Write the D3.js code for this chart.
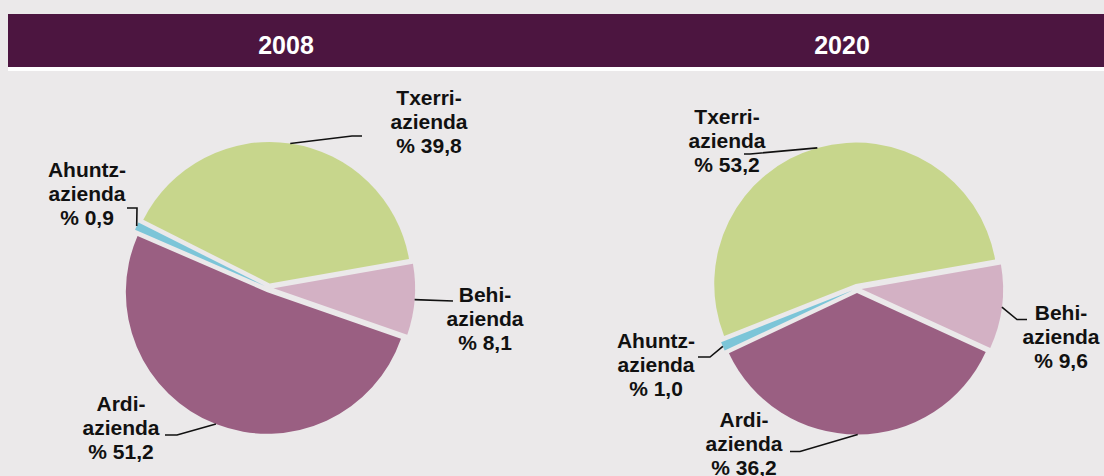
<!DOCTYPE html>
<html>
<head>
<meta charset="utf-8">
<script src="https://cdn.jsdelivr.net/npm/d3@7"></script>
<style>
  html, body { margin: 0; padding: 0; background: #ebe9ea; }
  svg { display: block; }
  text { font-family: "Liberation Sans", Arial, sans-serif; }
</style>
</head>
<body>
<svg id="chart" width="1104" height="476"></svg>
<script>
// ---- data ----
const years = ["2008", "2020"];
const categories = ["Behi-azienda", "Ardi-azienda", "Ahuntz-azienda", "Txerri-azienda"];
const values2008 = [8.1, 51.2, 0.9, 39.8];
const values2020 = [9.6, 36.2, 1.0, 53.2];
const seriesValues = [values2008, values2020];

// ---- style / layout ----
const colors = ["#d3b1c4", "#9a5f82", "#7cc5d8", "#c7d68c"];
const W = 1104, H = 476;
const bg = "#ebe9ea";
const headerColor = "#4c1540";
const colStart = 8, colWidth = 556;
const pieCenters = [[269, 288], [857, 288.5]];
const radius = 141.5;
const explode = 4.6;
const startDeg = 80;
const lineH = 24;

// label layout per year, in category order: [textX, firstBaseline, leader points after arc start]
const labelLayout = [
  [
    [485, 302, [[453, 301]]],
    [121, 411, [[177, 435], [165, 435]]],
    [87, 177, [[137, 208], [127, 208]]],
    [429, 105, [[352, 136], [362, 136]]]
  ],
  [
    [1061, 320, [[1017, 319.5], [1027, 319.5]]],
    [744, 427, [[800, 451.5], [790, 451.5]]],
    [656, 348, [[710, 357], [698, 357]]],
    [727, 123.5, [[750, 154], [744, 154]]]
  ]
];

const svg = d3.select("#chart");
svg.append("rect").attr("width", W).attr("height", H).attr("fill", bg);

// header band
svg.append("rect").attr("x", colStart).attr("y", 14).attr("width", W - colStart).attr("height", 53).attr("fill", headerColor);
svg.append("rect").attr("x", colStart).attr("y", 67).attr("width", W - colStart).attr("height", 4).attr("fill", "#ffffff");

const xCol = d3.scaleBand().domain(years).range([colStart, colStart + 2 * colWidth]);
svg.selectAll("text.year").data(years).join("text")
  .attr("class", "year")
  .attr("x", d => xCol(d) + xCol.bandwidth() / 2)
  .attr("y", 54)
  .attr("text-anchor", "middle")
  .attr("fill", "#ffffff")
  .attr("font-weight", "bold")
  .attr("font-size", 25)
  .text(d => d);

const toRad = Math.PI / 180;
const pie = d3.pie().sort(null).value(d => d)
  .startAngle(startDeg * toRad).endAngle(startDeg * toRad + 2 * Math.PI);
const arc = d3.arc().innerRadius(0).outerRadius(radius);
const fmt = v => "% " + v.toFixed(1).replace(".", ",");

years.forEach((yr, yi) => {
  const [cx, cy] = pieCenters[yi];
  const arcs = pie(seriesValues[yi]);
  const g = svg.append("g").attr("transform", `translate(${cx},${cy})`);

  const offset = d => {
    const a = (d.startAngle + d.endAngle) / 2;
    return [explode * Math.sin(a), -explode * Math.cos(a)];
  };

  g.selectAll("path").data(arcs).join("path")
    .attr("d", arc)
    .attr("transform", d => { const o = offset(d); return `translate(${o[0]},${o[1]})`; })
    .attr("fill", (d, i) => colors[i]);

  // leader lines + labels
  arcs.forEach((d, i) => {
    const a = (d.startAngle + d.endAngle) / 2;
    const o = offset(d);
    const sx = cx + o[0] + radius * Math.sin(a);
    const sy = cy + o[1] - radius * Math.cos(a);
    const lay = labelLayout[yi][i];
    const pts = [[sx, sy]].concat(lay[2]);
    svg.append("path")
      .attr("d", d3.line()(pts))
      .attr("fill", "none")
      .attr("stroke", "#111")
      .attr("stroke-width", 1.6);

    const parts = categories[i].split("-");
    const lines = [parts[0] + "-", parts[1], fmt(seriesValues[yi][i])];
    const t = svg.append("text")
      .attr("x", lay[0]).attr("y", lay[1])
      .attr("text-anchor", "middle")
      .attr("font-weight", "bold")
      .attr("font-size", 21)
      .attr("fill", "#111");
    lines.forEach((s, k) => {
      t.append("tspan").attr("x", lay[0]).attr("y", lay[1] + k * lineH).text(s);
    });
  });
});
</script>
</body>
</html>
